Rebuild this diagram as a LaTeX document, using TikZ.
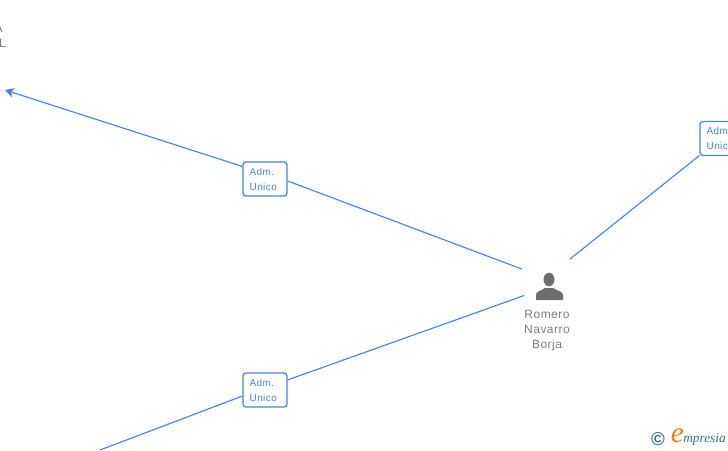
\documentclass[tikz,border=0pt]{standalone}
\usepackage{fontspec}
\setmainfont{Liberation Sans}
\newfontfamily\logofont{Liberation Serif}
\newfontfamily\spacedfont[LetterSpace=4]{Liberation Sans}
\usetikzlibrary{arrows.meta}
\definecolor{EmpBlue}{RGB}{68,133,226}
\definecolor{EmpGray}{RGB}{125,125,125}
\definecolor{EmpIcon}{RGB}{110,110,110}
\definecolor{EmpTeal}{RGB}{50,115,135}
\definecolor{EmpOrange}{RGB}{238,125,25}
\tikzset{
  emp/role/.style={
    draw=EmpBlue,
    line width=0.95pt,
    rounded corners=2.2pt,
    fill=white,
    align=left,
    text=EmpBlue,
    text width=23pt,
    minimum height=25.5pt,
    inner xsep=5pt,
    inner ysep=0pt,
    font=\spacedfont\fontsize{7.5}{11.2}\selectfont
  },
  emp/name/.style={
    align=center,
    text=EmpGray,
    inner sep=0pt,
    font=\spacedfont\fontsize{9}{11.25}\selectfont
  },
  emp/person/.style={circle, minimum size=43.5pt, inner sep=0pt},
  emp/line/.style={draw=EmpBlue, line width=0.85pt},
  emp/arrow/.style={-{Stealth[length=6.5pt,width=7pt,inset=1.5pt]}, draw=EmpBlue, line width=0.85pt}
}
\begin{document}
\begin{tikzpicture}[x=0.75pt,y=-0.75pt]
  \path[use as bounding box,clip] (0,0) rectangle (728,450);
  \node[emp/person] (romero) at (549,280) {};
  \node[emp/role] (admtop) at (265,179) {Adm.\\Unico};
  \node[emp/role] (admbottom) at (265,390) {Adm.\\Unico};
  \node[emp/role] (admright) at (722,138.5) {Adm.\\Unico};
  \coordinate (arrowend) at (5,90);
  \coordinate (bottomend) at (100,450);
  \draw[emp/arrow] (admtop.151) -- (arrowend);
  \draw[emp/line] (romero.158) -- (admtop.-5);
  \draw[emp/line] (romero.212) -- (admbottom.24);
  \draw[emp/line] (admbottom.195) -- (bottomend);
  \draw[emp/line] (romero.45) -- (admright.217);
  % person icon
  \fill[EmpIcon] (549,279.5) ellipse (5.5 and 6.8);
  \fill[EmpIcon] (536,300) -- (536,295) .. controls (536,291) and (541,291) .. (545,288) -- (553,288) .. controls (557,291) and (563,291) .. (563,295) -- (563,300) -- cycle;
  \node[emp/name] (romeroname) at (547,330.5) {Romero\\Navarro\\Borja};
  % cut off name at the left edge
  \node[emp/name,anchor=east] (cutA) at (3,28) {A};
  \node[emp/name,anchor=east] (cutL) at (6,43) {L};
  % logo
  \node[text=EmpTeal,inner sep=0pt,font=\bfseries\fontsize{14}{14}\selectfont] (logoc) at (658,439) {©};
  \node[text=EmpOrange,inner sep=0pt,font=\logofont\itshape\fontsize{22}{22}\selectfont] (logoe) at (677.5,436) {e};
  \node[text=EmpTeal,inner sep=0pt,anchor=west,font=\logofont\itshape\fontsize{10}{10}\selectfont] (logotext) at (683,439) {mpresia};
\end{tikzpicture}
\end{document}
